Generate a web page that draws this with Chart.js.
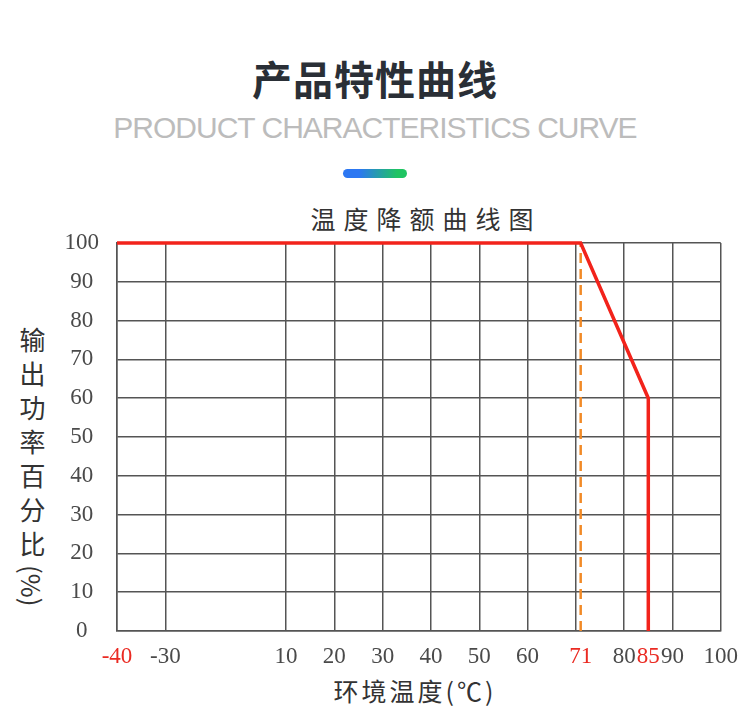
<!DOCTYPE html>
<html lang="zh">
<head>
    <meta charset="UTF-8">
    <title>产品特性曲线</title>
    <script src="https://cdn.jsdelivr.net/npm/chart.js"></script>
    <style>
        html, body { margin: 0; padding: 0; background: #fff; }
        body { width: 750px; height: 726px; position: relative; overflow: hidden; font-family: "Noto Sans CJK SC", sans-serif; }
        .title { position: absolute; left: 0; width: 750px; top: 50px; text-align: center; font-size: 40px; font-weight: 700; color: #2a2f36; letter-spacing: 1px; line-height: 56px; }
        .subtitle { position: absolute; left: 0; width: 750px; top: 108px; text-align: center; font-family: "Liberation Sans", Arial, sans-serif; font-size: 30px; letter-spacing: -1px; color: #bcbcbc; line-height: 40px; }
        .bar { position: absolute; left: 343px; top: 169px; width: 64px; height: 9px; border-radius: 5px; background: linear-gradient(90deg, #2c77f2 25%, #1fc462 85%); }
        .chart-title { position: absolute; left: 0; width: 852px; top: 198px; text-align: center; font-size: 25px; letter-spacing: 8px; color: #333; line-height: 40px; }
        .y-title { position: absolute; left: 15px; top: 327px; writing-mode: vertical-rl; font-size: 26px; letter-spacing: 8px; color: #333; line-height: 34px; }
        .y-title span { letter-spacing: 0; }
        .x-title { position: absolute; left: 0; width: 830px; top: 670px; text-align: center; font-size: 25px; letter-spacing: 3px; color: #333; line-height: 40px; }
        .chart-box { position: absolute; left: 0; top: 200px; width: 750px; height: 526px; }
    </style>
</head>
<body>
    <div class="title">产品特性曲线</div>
    <div class="subtitle">PRODUCT CHARACTERISTICS CURVE</div>
    <div class="bar"></div>
    <div class="chart-title">温度降额曲线图</div>
    <div class="y-title">输出功率百分比<span>(%)</span></div>
    <div class="x-title">环境温度(℃)</div>
    <div class="chart-box"><canvas id="derating"></canvas></div>

    <script>
        // Datos de la curva de reducción (temperatura ℃ / potencia %)
        const curveTemps = [-40, 71, 85, 85];
        const curvePower = [100, 100, 60, 0];
        const ratedTemp = 71;

        // Marcas del eje X (el eje está comprimido entre -30 y 10)
        const tickTemps = [-40, -30, 10, 20, 30, 40, 50, 60, 70, 71, 80, 85, 90, 100];
        const tickLabels = ['-40', '-30', '10', '20', '30', '40', '50', '60', '', '71', '80', '85', '90', '100'];
        const redLabels = ['-40', '71', '85'];
        const noGridTemps = [71, 85];

        // Tramos del eje roto: temperatura -> posición
        const breakTemps = [-40, -30, 10, 100];
        const breakPos = [0, 1, 3.5, 12.5];

        function toPos(t) {
            for (let i = 1; i < breakTemps.length; i++) {
                if (t <= breakTemps[i]) {
                    const f = (t - breakTemps[i - 1]) / (breakTemps[i] - breakTemps[i - 1]);
                    return breakPos[i - 1] + f * (breakPos[i] - breakPos[i - 1]);
                }
            }
            return breakPos[breakPos.length - 1];
        }

        const curvePoints = curveTemps.map((t, i) => ({ x: toPos(t), y: curvePower[i] }));
        const ratedPoints = [{ x: toPos(ratedTemp), y: 0 }, { x: toPos(ratedTemp), y: 100 }];

        const gridColor = '#555';
        const serif = { family: '"Liberation Serif", "DejaVu Serif", serif', size: 23 };

        new Chart(document.getElementById('derating'), {
            type: 'line',
            data: {
                datasets: [
                    {
                        data: curvePoints,
                        borderColor: '#f2231b',
                        borderWidth: 3.5,
                        pointRadius: 0,
                        tension: 0,
                        clip: 6
                    },
                    {
                        data: ratedPoints,
                        borderColor: '#f28a26',
                        borderWidth: 2.5,
                        borderDash: [10, 6],
                        pointRadius: 0,
                        clip: 6
                    }
                ]
            },
            options: {
                responsive: true,
                maintainAspectRatio: false,
                animation: false,
                layout: { padding: { left: 60, top: 43, right: 28, bottom: 55 } },
                plugins: { legend: { display: false }, tooltip: { enabled: false } },
                scales: {
                    x: {
                        type: 'linear',
                        min: 0,
                        max: 12.5,
                        afterBuildTicks: scale => {
                            scale.ticks = tickTemps.map(t => ({ value: toPos(t) }));
                        },
                        afterFit: scale => { scale.height = 40; },
                        grid: {
                            drawTicks: false,
                            lineWidth: 1.5,
                            color: ctx => noGridTemps.includes(tickTemps[ctx.index]) ? 'rgba(0,0,0,0)' : gridColor
                        },
                        border: { color: gridColor, width: 1.5 },
                        ticks: {
                            autoSkip: false,
                            maxRotation: 0,
                            padding: 12,
                            font: serif,
                            color: ctx => redLabels.includes(tickLabels[ctx.index]) ? '#ea2a22' : '#4a4a4a',
                            callback: (val, i) => tickLabels[i]
                        }
                    },
                    y: {
                        min: 0,
                        max: 100,
                        afterFit: scale => { scale.width = 57; },
                        grid: { drawTicks: false, lineWidth: 1.5, color: gridColor },
                        border: { color: gridColor, width: 1.5 },
                        ticks: {
                            stepSize: 10,
                            padding: 18,
                            crossAlign: 'center',
                            font: serif,
                            color: '#4a4a4a'
                        }
                    }
                }
            }
        });
    </script>
</body>
</html>
